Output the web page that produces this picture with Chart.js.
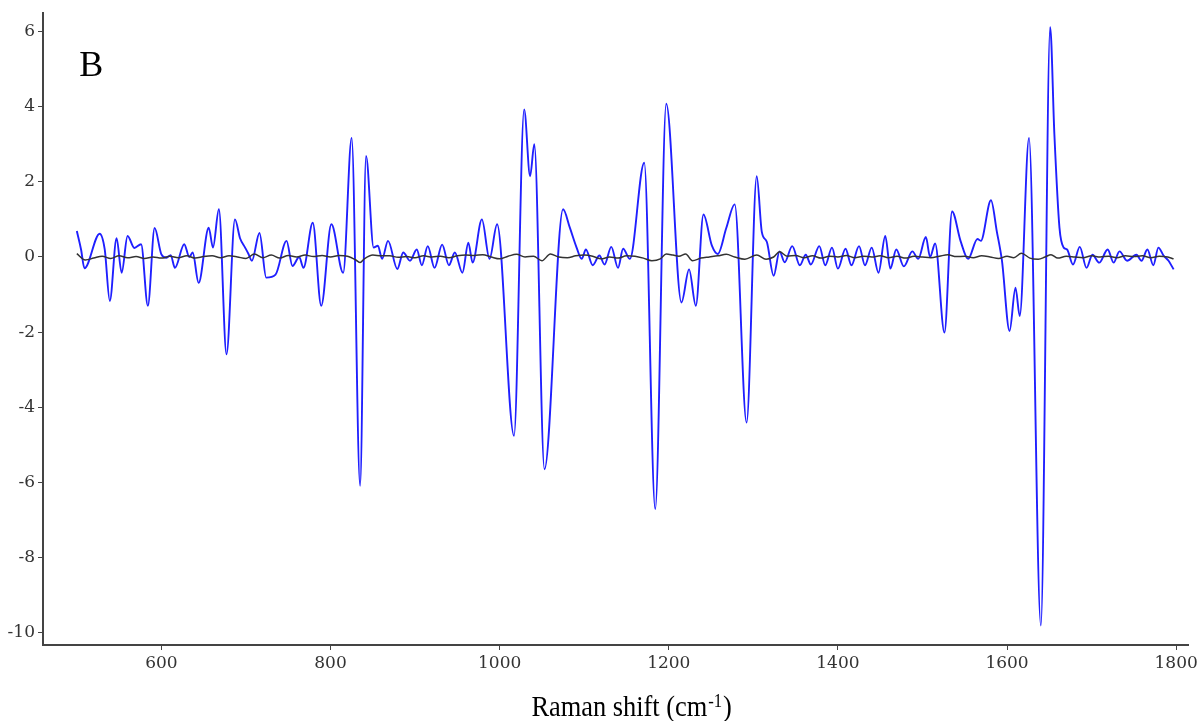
<!DOCTYPE html>
<html>
<head>
<meta charset="utf-8">
<script src="https://cdn.jsdelivr.net/npm/chart.js@4.4.1/dist/chart.umd.min.js"></script>
<style>
  html, body { margin: 0; padding: 0; background: #fff; }
  #wrap { width: 1202px; height: 721px; position: relative; }
</style>
</head>
<body>
<div id="wrap"><canvas id="spectrum" width="1202" height="721"></canvas></div>
<script>
// Difference spectrum (blue)
const blueShift = [
  500, 505, 509, 527, 533, 539, 547, 553, 560, 568, 576, 584, 592, 600, 606, 611, 616, 627, 633, 637,
  644, 656, 661, 668, 677, 687, 693, 699, 703, 707, 716, 724, 735, 748, 755, 763, 768, 779, 789, 801,
  815, 825, 835, 842, 851, 856, 861, 868, 879, 886, 894, 902, 908, 915, 923, 932, 940, 947, 956, 963,
  968, 979, 988, 997, 1017, 1029, 1036, 1041, 1053, 1075, 1083, 1091, 1097, 1102, 1110, 1118, 1124, 1132, 1140, 1146,
  1154, 1171, 1184, 1197, 1215, 1224, 1232, 1241, 1251, 1258, 1268, 1278, 1292, 1304, 1310, 1316, 1324, 1331, 1337, 1346,
  1355, 1362, 1368, 1378, 1385, 1393, 1400, 1409, 1416, 1425, 1432, 1440, 1448, 1456, 1462, 1469, 1478, 1488, 1495, 1504,
  1509, 1515, 1526, 1535, 1545, 1554, 1565, 1569, 1581, 1588, 1594, 1603, 1610, 1615, 1626, 1640, 1651, 1656, 1662, 1667,
  1671, 1678, 1686, 1694, 1701, 1709, 1719, 1726, 1733, 1742, 1753, 1759, 1766, 1773, 1779, 1785, 1791, 1797
];
const blueValues = [
  0.69, 0.2, -0.3, 0.62, 0.2, -1.17, 0.5, -0.42, 0.56, 0.24, 0.34, -1.3, 0.77, 0.07, -0.02, 0.05, -0.29, 0.34, 0.0, 0.12,
  -0.69, 0.78, 0.25, 1.27, -2.59, 1.0, 0.5, 0.25, 0.08, -0.1, 0.64, -0.55, -0.47, 0.43, -0.24, 0.0, -0.29, 0.91, -1.3, 0.87,
  -0.42, 3.17, -6.09, 2.69, 0.25, 0.3, -0.05, 0.43, -0.32, 0.12, -0.1, 0.2, -0.22, 0.29, -0.29, 0.33, -0.22, 0.12, -0.42, 0.38,
  -0.15, 1.0, -0.05, 0.87, -4.76, 3.93, 2.15, 3.0, -5.65, 1.27, 0.78, 0.25, -0.05, 0.2, -0.22, 0.04, -0.2, 0.27, -0.29, 0.22,
  -0.05, 2.51, -6.71, 4.08, -1.21, -0.33, -1.3, 1.13, 0.3, 0.08, 0.77, 1.4, -4.41, 2.15, 0.67, 0.4, -0.5, 0.15, -0.14, 0.29,
  -0.22, 0.06, -0.2, 0.29, -0.22, 0.25, -0.31, 0.22, -0.22, 0.29, -0.22, 0.25, -0.42, 0.56, -0.31, 0.2, -0.25, 0.15, -0.05, 0.53,
  0.0, 0.36, -2.01, 1.21, 0.43, -0.05, 0.48, 0.43, 1.51, 0.67, -0.1, -1.97, -0.82, -1.57, 3.17, -9.81, 6.12, 3.26, 0.78, 0.25,
  0.2, -0.2, 0.27, -0.29, 0.06, -0.15, 0.2, -0.15, 0.15, -0.1, 0.06, -0.1, 0.2, -0.22, 0.25, 0.04, -0.1, -0.33
];

// Reference line near zero (black)
const blackShift = [
  500, 510, 520, 530, 540, 550, 560, 570, 580, 590, 600, 610, 620, 630, 640, 650, 660, 670, 680, 690,
  700, 710, 720, 730, 740, 750, 760, 770, 780, 790, 800, 810, 820, 830, 835, 840, 850, 860, 870, 880,
  890, 900, 910, 920, 930, 940, 950, 960, 970, 980, 990, 1000, 1010, 1020, 1030, 1040, 1050, 1060, 1070, 1080,
  1090, 1100, 1110, 1120, 1130, 1140, 1150, 1160, 1170, 1180, 1190, 1197, 1205, 1212, 1220, 1228, 1238, 1248, 1258, 1268,
  1278, 1290, 1304, 1315, 1324, 1331, 1340, 1350, 1360, 1370, 1380, 1390, 1400, 1410, 1420, 1430, 1440, 1450, 1460, 1470,
  1480, 1490, 1500, 1510, 1520, 1530, 1540, 1550, 1560, 1570, 1580, 1590, 1600, 1608, 1617, 1627, 1637, 1645, 1652, 1660,
  1670, 1680, 1690, 1700, 1710, 1720, 1730, 1740, 1750, 1760, 1770, 1780, 1790, 1797
];
const blackValues = [
  0.09, -0.08, -0.03, 0.02, -0.04, 0.03, -0.02, 0.01, -0.04, 0.0, -0.03, 0.02, -0.02, 0.03, -0.03, 0.01, 0.03, -0.02, 0.03, 0.0,
  -0.04, 0.08, -0.02, 0.05, -0.03, 0.04, 0.0, 0.05, 0.01, 0.04, 0.0, 0.04, 0.02, -0.08, -0.15, -0.05, 0.05, 0.03, 0.03, -0.01,
  0.01, -0.02, 0.03, 0.0, 0.02, -0.02, 0.03, 0.05, 0.04, 0.06, 0.0, -0.05, 0.02, 0.07, 0.0, 0.02, -0.1, 0.08, 0.0, -0.02,
  0.03, 0.05, 0.02, -0.05, 0.0, -0.03, 0.03, 0.02, -0.03, -0.1, -0.05, 0.08, 0.05, 0.02, 0.08, -0.1, -0.03, 0.0, 0.03, 0.07,
  0.0, -0.06, 0.05, -0.06, 0.0, 0.14, 0.02, 0.04, -0.02, 0.03, -0.03, 0.02, 0.0, 0.04, -0.02, 0.02, 0.0, 0.03, -0.02, 0.02,
  -0.03, 0.02, 0.0, -0.02, 0.02, 0.06, 0.01, 0.02, -0.02, 0.03, 0.0, -0.04, 0.02, -0.02, 0.1, -0.03, -0.06, 0.0, 0.06, -0.03,
  0.02, 0.0, -0.02, 0.03, 0.0, 0.02, -0.02, 0.03, 0.01, 0.03, -0.02, 0.02, 0.0, -0.05
];

const xTicks = [600, 800, 1000, 1200, 1400, 1600, 1800];
const yTicks = [-10, -8, -6, -4, -2, 0, 2, 4, 6];
const panelLabel = 'B';
const xTitleMain = 'Raman shift (cm';
const xTitleSup = '-1';
const xTitleEnd = ')';

const toPoints = (xs, ys) => xs.map((x, i) => ({ x: x, y: ys[i] }));

// Panel letter and axis title (with a real superscript) drawn on the canvas
const annotationsPlugin = {
    id: 'annotations',
    afterDraw(chart) {
        const { ctx, scales, chartArea } = chart;
        ctx.save();
        ctx.fillStyle = '#000';
        ctx.textAlign = 'left';
        ctx.textBaseline = 'alphabetic';

        ctx.font = '36px "Liberation Serif", serif';
        ctx.fillText(panelLabel, scales.x.getPixelForValue(503), scales.y.getPixelForValue(4.81));

        // axis title, slightly condensed like the original figure
        const sx = 0.88;
        const mainFont = '30px "Liberation Serif", serif';
        const supFont = '19px "Liberation Serif", serif';
        ctx.font = mainFont;
        const wMain = ctx.measureText(xTitleMain).width;
        const wEnd = ctx.measureText(xTitleEnd).width;
        ctx.font = supFont;
        const wSup = ctx.measureText(xTitleSup).width;
        const total = (wMain + wSup + wEnd) * sx;
        const cx = scales.x.getPixelForValue(1155);
        const baseY = chartArea.bottom + 71;
        ctx.translate(cx - total / 2, baseY);
        ctx.scale(sx, 1);
        ctx.font = mainFont;
        ctx.fillText(xTitleMain, 0, 0);
        ctx.font = supFont;
        ctx.fillText(xTitleSup, wMain + 1, -9);
        ctx.font = mainFont;
        ctx.fillText(xTitleEnd, wMain + wSup + 2, 0);
        ctx.restore();
    }
};

const tickFont = { family: '"DejaVu Serif", serif', size: 17 };

new Chart(document.getElementById('spectrum'), {
    type: 'line',
    data: {
        datasets: [
            {
                label: 'reference',
                data: toPoints(blackShift, blackValues),
                borderColor: '#333333',
                borderWidth: 1.5,
                pointRadius: 0,
                cubicInterpolationMode: 'monotone',
                fill: false
            },
            {
                label: 'difference',
                data: toPoints(blueShift, blueValues),
                borderColor: '#1f1fff',
                borderWidth: 1.9,
                pointRadius: 0,
                cubicInterpolationMode: 'monotone',
                fill: false
            }
        ]
    },
    options: {
        responsive: false,
        animation: false,
        layout: { padding: { top: 12, right: 14, left: 0, bottom: 0 } },
        plugins: {
            legend: { display: false },
            tooltip: { enabled: false }
        },
        scales: {
            x: {
                type: 'linear',
                min: 460,
                max: 1814,
                afterFit(scale) { scale.height = 76; },
                afterBuildTicks(scale) { scale.ticks = xTicks.map(v => ({ value: v })); },
                grid: { drawOnChartArea: false, drawTicks: true, tickLength: 5, color: '#444' },
                border: { color: '#444', width: 2 },
                ticks: { font: tickFont, color: '#333', padding: 3, maxRotation: 0, callback: v => String(v) }
            },
            y: {
                type: 'linear',
                min: -10.33,
                max: 6.49,
                afterFit(scale) { scale.width = 43; },
                afterBuildTicks(scale) { scale.ticks = yTicks.map(v => ({ value: v })); },
                grid: { drawOnChartArea: false, drawTicks: true, tickLength: 5, color: '#444' },
                border: { color: '#444', width: 2 },
                ticks: { font: tickFont, color: '#333', padding: 3, callback: v => String(v) }
            }
        }
    },
    plugins: [annotationsPlugin]
});
</script>
</body>
</html>
